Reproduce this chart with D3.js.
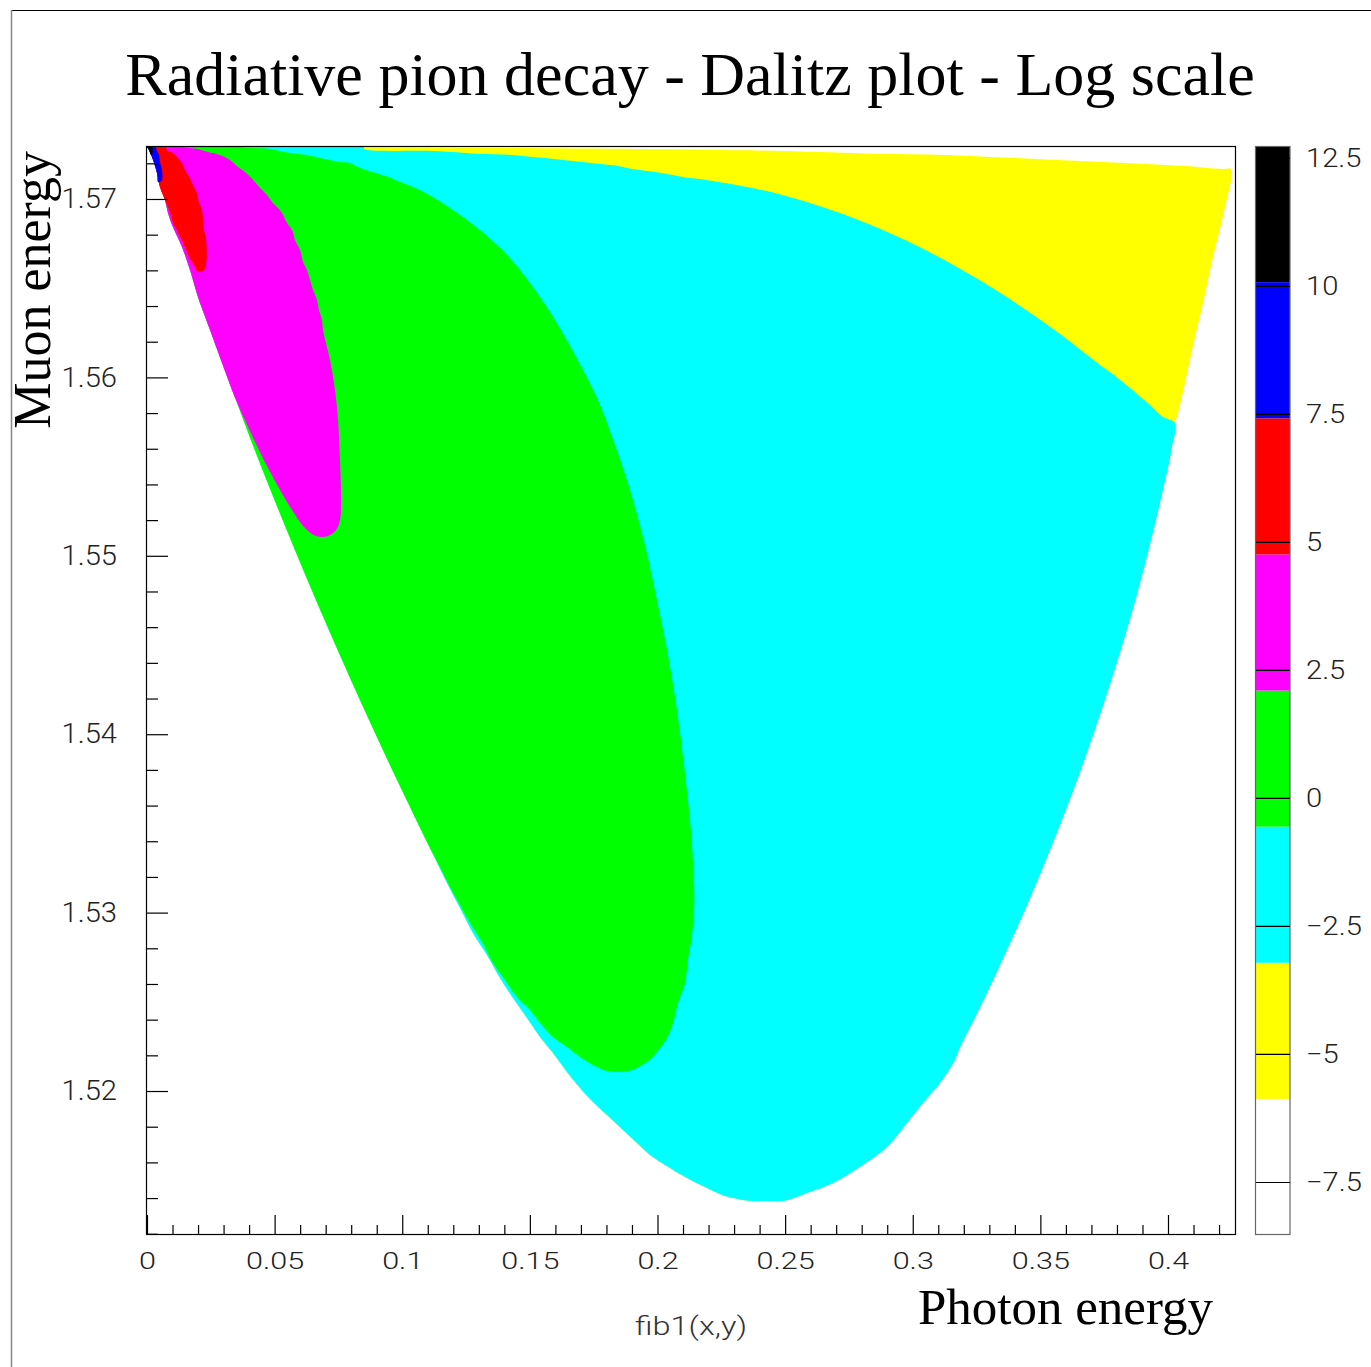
<!DOCTYPE html>
<html>
<head>
<meta charset="utf-8">
<script src="https://cdn.jsdelivr.net/npm/d3@7"></script>
<style>
  html, body { margin: 0; padding: 0; background: #fff; }
  svg { display: block; }
</style>
</head>
<body>
<svg id="chart" width="1371" height="1367"></svg>
<script>
// ---------------- DATA ----------------
const titleText = "Radiative pion decay - Dalitz plot - Log scale";
const xTitle = "Photon energy";
const yTitle = "Muon energy";
const funcLabel = "fib1(x,y)";

const xRange = [0, 0.42625];
const yRange = [1.51193, 1.57297];

const xMajorTicks = [0, 0.05, 0.1, 0.15, 0.2, 0.25, 0.3, 0.35, 0.4];
const xTickLabels = ["0", "0.05", "0.1", "0.15", "0.2", "0.25", "0.3", "0.35", "0.4"];
const xMinorTicks = [0.01,0.02,0.03,0.04,0.06,0.07,0.08,0.09,0.11,0.12,0.13,0.14,0.16,0.17,0.18,0.19,
                     0.21,0.22,0.23,0.24,0.26,0.27,0.28,0.29,0.31,0.32,0.33,0.34,0.36,0.37,0.38,0.39,0.41,0.42];
const yMajorTicks = [1.52, 1.53, 1.54, 1.55, 1.56, 1.57];
const yTickLabels = ["1.52", "1.53", "1.54", "1.55", "1.56", "1.57"];
const yMinorTicks = [1.512,1.514,1.516,1.518,1.522,1.524,1.526,1.528,1.532,1.534,1.536,1.538,
                     1.542,1.544,1.546,1.548,1.552,1.554,1.556,1.558,1.562,1.564,1.566,1.568,1.572];

// contour levels (log scale of the function) and their fill colours
const levels = [-8.535, -5.877, -3.219, -0.561, 2.097, 4.755, 7.413, 10.071, 12.73];
const levelColors = ["#ffffff", "#ffff00", "#00ffff", "#00ff00", "#ff00ff", "#ff0000", "#0000ff", "#000000"];
const zTicks = [12.5, 10, 7.5, 5, 2.5, 0, -2.5, -5, -7.5];
const zTickLabels = ["12.5", "10", "7.5", "5", "2.5", "0", "\u22122.5", "\u22125", "\u22127.5"];

// region boundaries [photon energy, muon energy]: each is the area where the function is above a level
// level -5.877 (yellow): the whole kinematic domain
const regionAboveM5_877 = [
  [0,1.57297],[0.08501,1.57290],[0.19197,1.57280],[0.24877,1.57269],[0.28521,1.57254],[0.31263,1.57247],
  [0.33614,1.57232],[0.35651,1.57219],[0.37453,1.57207],[0.39138,1.57196],[0.40666,1.57185],[0.42116,1.57168],
  [0.42468,1.57168],[0.42233,1.56955],[0.41763,1.56675],[0.41371,1.56417],[0.41058,1.56226],[0.40666,1.55969],
  [0.40392,1.55800],[0.40274,1.55744],[0.40157,1.55610],[0.39714,1.55313],[0.38727,1.54752],[0.37532,1.54192],
  [0.36149,1.53631],[0.34566,1.53071],[0.32780,1.52510],[0.31812,1.52230],[0.31655,1.52174],[0.31068,1.52045],
  [0.30402,1.51933],[0.29775,1.51821],[0.28991,1.51686],[0.27933,1.51574],[0.26876,1.51484],[0.25857,1.51428],
  [0.24995,1.51385],[0.24251,1.51383],[0.23546,1.51385],[0.22644,1.51411],[0.21939,1.51456],[0.21156,1.51512],
  [0.20490,1.51568],[0.19706,1.51641],[0.19197,1.51708],[0.18648,1.51781],[0.18022,1.51865],[0.17473,1.51938],
  [0.16964,1.52017],[0.16454,1.52107],[0.15906,1.52213],[0.15397,1.52303],[0.14887,1.52409],[0.14339,1.52521],
  [0.13830,1.52633],[0.13320,1.52762],[0.12772,1.52886],[0.12262,1.53026],[0.11753,1.53166],[0.11126,1.53351],
  [0.10174,1.53631],[0.09246,1.53911],[0.08345,1.54192],[0.07471,1.54472],[0.06621,1.54752],[0.05798,1.55033],
  [0.04999,1.55313],[0.04223,1.55593],[0.03487,1.55873],[0.02468,1.56266],[0.01998,1.56451],[0.01685,1.56602],
  [0.01371,1.56731],[0.01019,1.56843],[0.00823,1.56922],[0.00705,1.56994],[0.00509,1.57067],[0.00392,1.57146],
  [0.00196,1.57235],[0.00078,1.57275]
];
// level -3.219 (cyan)
const regionAboveM3_219 = [
  [0,1.57297],[0.08501,1.57290],[0.08501,1.57280],[0.11283,1.57269],[0.12929,1.57254],[0.14260,1.57247],
  [0.15357,1.57232],[0.16298,1.57219],[0.17042,1.57207],[0.17786,1.57196],[0.18453,1.57185],[0.19001,1.57168],
  [0.19589,1.57157],[0.20098,1.57147],[0.20529,1.57136],[0.21077,1.57122],[0.21900,1.57107],[0.23859,1.57058],
  [0.25818,1.56985],[0.27777,1.56888],[0.29736,1.56767],[0.31695,1.56622],[0.33653,1.56453],[0.35612,1.56260],
  [0.37336,1.56070],[0.37728,1.56030],[0.38511,1.55941],
  [0.39295,1.55845],[0.39804,1.55778],[0.40274,1.55744],[0.40157,1.55610],[0.39714,1.55313],[0.38727,1.54752],
  [0.37532,1.54192],[0.36149,1.53631],[0.34566,1.53071],[0.32780,1.52510],[0.31812,1.52230],[0.31655,1.52174],
  [0.31068,1.52045],[0.30402,1.51933],[0.29775,1.51821],[0.28991,1.51686],[0.27933,1.51574],[0.26876,1.51484],
  [0.25857,1.51428],[0.24995,1.51385],[0.24251,1.51383],[0.23546,1.51385],[0.22644,1.51411],[0.21939,1.51456],
  [0.21156,1.51512],[0.20490,1.51568],[0.19706,1.51641],[0.19197,1.51708],[0.18648,1.51781],[0.18022,1.51865],
  [0.17473,1.51938],[0.16964,1.52017],[0.16454,1.52107],[0.15906,1.52213],[0.15397,1.52303],[0.14887,1.52409],
  [0.14339,1.52521],[0.13830,1.52633],[0.13320,1.52762],[0.12772,1.52886],[0.12262,1.53026],[0.11753,1.53166],
  [0.11126,1.53351],[0.10174,1.53631],[0.09246,1.53911],[0.08345,1.54192],[0.07471,1.54472],[0.06621,1.54752],
  [0.05798,1.55033],[0.04999,1.55313],[0.04223,1.55593],[0.03487,1.55873],[0.02468,1.56266],[0.01998,1.56451],
  [0.01685,1.56602],[0.01371,1.56731],[0.01019,1.56843],[0.00823,1.56922],[0.00705,1.56994],[0.00509,1.57067],
  [0.00392,1.57146],[0.00196,1.57235],[0.00078,1.57275]
];
// level -0.561 (green)
const regionAboveM0_561 = [
  [0,1.57297],[0.03722,1.57294],[0.03722,1.57291],[0.04819,1.57280],[0.05602,1.57258],[0.06268,1.57247],
  [0.06778,1.57230],[0.07170,1.57219],[0.07561,1.57207],[0.07953,1.57202],[0.08188,1.57185],[0.08462,1.57168],
  [0.08697,1.57157],[0.08972,1.57146],[0.09207,1.57135],[0.09481,1.57123],[0.09638,1.57112],[0.10695,1.57050],
  [0.11871,1.56950],[0.13046,1.56826],[0.14221,1.56669],[0.15201,1.56490],[0.15984,1.56322],[0.16768,1.56126],
  [0.17669,1.55873],[0.18335,1.55621],[0.18923,1.55369],[0.19510,1.55061],[0.19980,1.54752],[0.20411,1.54444],
  [0.20764,1.54136],[0.21038,1.53827],[0.21273,1.53519],[0.21430,1.53183],[0.21430,1.52998],[0.21312,1.52835],
  [0.21195,1.52734],[0.21077,1.52605],[0.20803,1.52493],[0.20607,1.52381],[0.20372,1.52297],[0.19980,1.52219],
  [0.19589,1.52163],[0.19001,1.52118],[0.18531,1.52107],[0.18022,1.52112],[0.17473,1.52146],[0.16964,1.52191],
  [0.16454,1.52247],[0.15906,1.52303],[0.15397,1.52381],[0.15005,1.52454],[0.14496,1.52527],[0.14025,1.52622],
  [0.13555,1.52717],[0.13124,1.52835],[0.12654,1.52942],[0.12262,1.53043],[0.11871,1.53144],[0.11636,1.53211],
  [0.11126,1.53351],[0.10174,1.53631],[0.09246,1.53911],[0.08345,1.54192],[0.07471,1.54472],[0.06621,1.54752],
  [0.05798,1.55033],[0.04999,1.55313],[0.04223,1.55593],[0.03487,1.55873],[0.02468,1.56266],[0.01998,1.56451],
  [0.01685,1.56602],[0.01371,1.56731],[0.01019,1.56843],[0.00823,1.56922],[0.00705,1.56994],[0.00509,1.57067],
  [0.00392,1.57146],[0.00196,1.57235],[0.00078,1.57275]
];
// level 2.097 (magenta)
const regionAbove2_097 = [
  [0,1.57297],[0.01489,1.57294],[0.01489,1.57291],[0.01998,1.57280],[0.02390,1.57263],[0.02860,1.57247],
  [0.03252,1.57219],[0.03565,1.57179],[0.03839,1.57151],[0.04153,1.57107],[0.04427,1.57062],[0.04701,1.57022],
  [0.04897,1.56983],[0.05093,1.56955],[0.05289,1.56922],[0.05485,1.56865],[0.05681,1.56826],[0.05798,1.56770],
  [0.05994,1.56714],[0.06112,1.56647],[0.06268,1.56602],[0.06386,1.56546],[0.06503,1.56490],[0.06660,1.56434],
  [0.06738,1.56378],[0.06856,1.56322],[0.06895,1.56266],[0.07170,1.56098],[0.07366,1.55929],[0.07483,1.55761],
  [0.07561,1.55537],[0.07600,1.55313],[0.07561,1.55201],[0.07405,1.55145],[0.07091,1.55111],[0.06621,1.55111],
  [0.06190,1.55156],[0.05681,1.55257],[0.05211,1.55369],[0.04740,1.55492],[0.04231,1.55638],[0.03800,1.55772],
  [0.03487,1.55873],[0.02468,1.56266],[0.01998,1.56451],[0.01685,1.56602],[0.01371,1.56731],[0.01019,1.56843],
  [0.00823,1.56922],[0.00705,1.56994],[0.00509,1.57067],[0.00392,1.57146],[0.00196,1.57235],[0.00078,1.57275]
];
// level 4.755 (red)
const regionAbove4_755 = [
  [0,1.57297],[0.00705,1.57294],[0.00823,1.57269],[0.01019,1.57258],[0.01214,1.57230],[0.01371,1.57202],
  [0.01489,1.57163],[0.01685,1.57118],[0.01802,1.57078],[0.01959,1.57034],[0.02037,1.56983],[0.02155,1.56938],
  [0.02194,1.56893],[0.02233,1.56826],[0.02311,1.56781],[0.02311,1.56630],[0.02194,1.56596],[0.01959,1.56596],
  [0.01881,1.56619],[0.01763,1.56647],[0.01645,1.56675],[0.01567,1.56703],[0.01450,1.56742],[0.01371,1.56770],
  [0.01254,1.56798],[0.01175,1.56826],[0.01019,1.56865],[0.00940,1.56910],[0.00823,1.56955],[0.00705,1.56994],
  [0.00509,1.57067],[0.00392,1.57146],[0.00196,1.57235],[0.00078,1.57275]
];
// level 7.413 (blue)
const regionAbove7_413 = [
  [0,1.57297],[0.00313,1.57294],[0.00392,1.57269],[0.00470,1.57247],[0.00509,1.57207],[0.00588,1.57163],
  [0.00588,1.57107],[0.00509,1.57095],[0.00431,1.57095],[0.00392,1.57146],[0.00196,1.57235],[0.00078,1.57275]
];
// level 10.071 (black)
const regionAbove10_071 = [
  [0,1.57297],[0.00196,1.57297],[0.00196,1.57252],[0.00157,1.57247],[0.00078,1.57275]
];

const regions = [regionAboveM5_877, regionAboveM3_219, regionAboveM0_561, regionAbove2_097,
                 regionAbove4_755, regionAbove7_413, regionAbove10_071];

// ---------------- DRAWING ----------------
const svg = d3.select("#chart");
const L = 147, R = 1235, T = 146, B = 1235;
const x = d3.scaleLinear().domain(xRange).range([L, R]);
const y = d3.scaleLinear().domain(yRange).range([B, T]);
const z = d3.scaleLinear().domain([levels[0], levels[levels.length - 1]]).range([B, T]);

const tickFont = "Roboto, 'Liberation Sans', Arial, sans-serif";
function stretch(sel, f) {
  sel.each(function () {
    const w = this.getComputedTextLength();
    this.setAttribute("textLength", w * f);
    this.setAttribute("lengthAdjust", "spacingAndGlyphs");
  });
}

// outer canvas border
svg.append("line").attr("x1", 11).attr("x2", 1371).attr("y1", 10.5).attr("y2", 10.5)
  .attr("stroke", "#000").attr("stroke-width", 1);
svg.append("line").attr("x1", 11.5).attr("x2", 11.5).attr("y1", 10).attr("y2", 1367)
  .attr("stroke", "#888").attr("stroke-width", 1.5);

// clip
svg.append("defs").append("clipPath").attr("id", "plotClip")
  .append("rect").attr("x", L).attr("y", T).attr("width", R - L).attr("height", B - T);

const line = d3.line().x(d => x(d[0])).y(d => y(d[1])).curve(d3.curveCatmullRomClosed.alpha(0.5));
const g = svg.append("g").attr("clip-path", "url(#plotClip)");
g.selectAll("path.region").data(regions).join("path")
  .attr("class", "region")
  .attr("d", line)
  .attr("fill", (d, i) => levelColors[i + 1])
  .attr("stroke", "none");

// frame
svg.append("rect").attr("x", L - 0.5).attr("y", T + 0.5).attr("width", R - L + 1).attr("height", B - T - 1)
  .attr("fill", "none").attr("stroke", "#000").attr("stroke-width", 1.2);

// x axis
const xMajor = svg.append("g").attr("transform", `translate(0,${B})`)
  .call(d3.axisBottom(x).tickValues(xMajorTicks).tickSize(-20).tickPadding(17)
    .tickFormat((d, i) => xTickLabels[i]));
const xMinor = svg.append("g").attr("transform", `translate(0,${B})`)
  .call(d3.axisBottom(x).tickValues(xMinorTicks).tickSize(-10).tickFormat(""));
// y axis
const yMajor = svg.append("g").attr("transform", `translate(${L},0)`)
  .call(d3.axisLeft(y).tickValues(yMajorTicks).tickSize(-21).tickPadding(30)
    .tickFormat((d, i) => yTickLabels[i]));
const yMinor = svg.append("g").attr("transform", `translate(${L},0)`)
  .call(d3.axisLeft(y).tickValues(yMinorTicks).tickSize(-11).tickFormat(""));

[xMajor, xMinor, yMajor, yMinor].forEach(a => {
  a.select(".domain").remove();
  a.selectAll("line").attr("stroke", "#000").attr("stroke-width", 1.2);
});
xMajor.selectAll("text").attr("font-family", tickFont).attr("font-weight", 300)
  .attr("font-size", 23.5).attr("fill", "#222").attr("dy", "0.71em").call(stretch, 1.3);
yMajor.selectAll("text").attr("font-family", tickFont).attr("font-weight", 300)
  .attr("font-size", 27).attr("fill", "#222").call(stretch, 1.08);

// colour palette
const CL = 1256, CR = 1290;
const bands = d3.range(levels.length - 1).map(i => [levels[i], levels[i + 1]]);
svg.append("g").selectAll("rect").data(bands).join("rect")
  .attr("x", CL).attr("width", CR - CL)
  .attr("y", d => z(d[1])).attr("height", d => z(d[0]) - z(d[1]))
  .attr("fill", (d, i) => levelColors[i]);
svg.append("rect").attr("x", CL - 0.5).attr("y", T + 0.5).attr("width", CR - CL + 0.5).attr("height", B - T - 1)
  .attr("fill", "none").attr("stroke", "#666").attr("stroke-width", 1.2);
const zAxis = svg.append("g").attr("transform", `translate(${CR},0)`)
  .call(d3.axisRight(z).tickValues(zTicks).tickSize(-(CR - CL)).tickPadding(16)
    .tickFormat((d, i) => zTickLabels[i]));
zAxis.select(".domain").remove();
zAxis.selectAll("line").attr("stroke", "#000").attr("stroke-width", 1.2);
zAxis.selectAll("text").attr("font-family", tickFont).attr("font-weight", 300)
  .attr("font-size", 26).attr("fill", "#222").call(stretch, 1.12);

// titles
svg.append("text").attr("x", 690).attr("y", 95).attr("text-anchor", "middle")
  .attr("font-family", "'Liberation Serif', 'Times New Roman', serif").attr("font-size", 62)
  .attr("fill", "#000").text(titleText);
svg.append("text").attr("x", 1213).attr("y", 1324).attr("text-anchor", "end")
  .attr("font-family", "'Liberation Serif', 'Times New Roman', serif").attr("font-size", 51)
  .attr("fill", "#000").text(xTitle);
svg.append("text").attr("transform", "translate(50,151) rotate(-90)").attr("text-anchor", "end")
  .attr("font-family", "'Liberation Serif', 'Times New Roman', serif").attr("font-size", 52)
  .attr("fill", "#000").text(yTitle);
svg.append("text").attr("x", 691).attr("y", 1335).attr("text-anchor", "middle")
  .attr("font-family", tickFont).attr("font-weight", 300).attr("font-size", 25)
  .attr("fill", "#333").text(funcLabel).call(stretch, 1.3);
</script>
</body>
</html>
